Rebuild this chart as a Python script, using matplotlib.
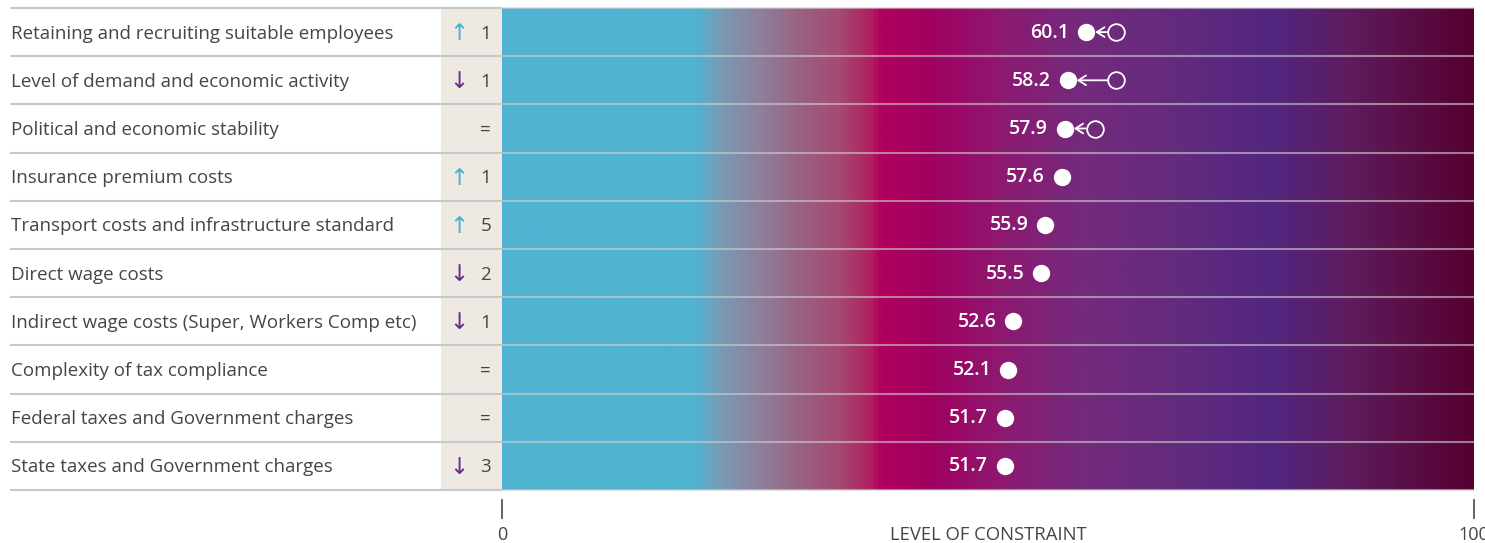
import numpy as np
import matplotlib
matplotlib.use("Agg")
import matplotlib.pyplot as plt
from matplotlib.colors import LinearSegmentedColormap

plt.rcParams['font.family'] = ['Open Sans', 'DejaVu Sans']

categories = [
    "Retaining and recruiting suitable employees",
    "Level of demand and economic activity",
    "Political and economic stability",
    "Insurance premium costs",
    "Transport costs and infrastructure standard",
    "Direct wage costs",
    "Indirect wage costs (Super, Workers Comp etc)",
    "Complexity of tax compliance",
    "Federal taxes and Government charges",
    "State taxes and Government charges",
]
values = [60.1, 58.2, 57.9, 57.6, 55.9, 55.5, 52.6, 52.1, 51.7, 51.7]
previous = [63.2, 63.2, 61.0, None, None, None, None, None, None, None]
rank_dir = ["up", "down", "=", "up", "up", "down", "down", "=", "=", "down"]
rank_change = [1, 1, None, 1, 5, 2, 1, None, None, 3]
axis_ticks = [0, 100]
axis_title = "LEVEL OF CONSTRAINT"

W, H = 1485, 543
fig = plt.figure(figsize=(W / 100, H / 100), dpi=100)
x0, x1 = 502, 1474
ytop, ybot = 8, 490
ax = fig.add_axes([x0 / W, (H - ybot) / H, (x1 - x0) / W, (ybot - ytop) / H])
n = len(categories)
ax.set_xlim(0, 100)
ax.set_ylim(n, 0)
ax.axis('off')

# gradient background
stops = [
    (0.0, "#4fb3d1"), (0.198, "#4fb3d1"), (0.224, "#7a9bb5"), (0.265, "#8f7f9a"),
    (0.306, "#9a6282"), (0.348, "#a44872"), (0.379, "#b0205e"), (0.389, "#b0005e"),
    (0.44, "#a00060"), (0.512, "#8e1870"), (0.595, "#742a7c"), (0.718, "#5f2a7e"),
    (0.795, "#512680"), (0.872, "#5e1c5e"), (1.0, "#560030"),
]
cmap = LinearSegmentedColormap.from_list("grad", stops)
grad = np.linspace(0, 1, 1000).reshape(1, -1)
ax.imshow(grad, aspect='auto', cmap=cmap, extent=[0, 100, n, 0], zorder=0)

px = 100 / (x1 - x0)  # data units per pixel
py = 1 / 48.2          # rows per pixel
label_ax_x = lambda p: (p - x0) * px

# beige rank column
ax.add_patch(plt.Rectangle((label_ax_x(441), 0), label_ax_x(502) - label_ax_x(441), n,
                           facecolor="#efe9e3", edgecolor='none', clip_on=False, zorder=0))

# separators
for i in range(n + 1):
    ax.plot([label_ax_x(10), 0], [i, i], color="#c8c8c8", lw=1.5, clip_on=False, zorder=1,
            solid_capstyle='butt')
    ax.plot([0, 100], [i, i], color="#d0d0d0", alpha=0.6, lw=1.5, clip_on=False, zorder=1,
            solid_capstyle='butt')

text_col = "#454545"
for i, cat in enumerate(categories):
    yc = i + 0.5
    yt = yc + 1.5 * py
    ax.text(label_ax_x(11), yt, cat, ha='left', va='center', fontsize=13.5, color=text_col,
            clip_on=False)
    d = rank_dir[i]
    if d == "=":
        ax.text(label_ax_x(491), yt, "=", ha='right', va='center', fontsize=13.5,
                color=text_col, clip_on=False)
    else:
        col = "#45b0d3" if d == "up" else "#6a2c8a"
        sym = "\u2191" if d == "up" else "\u2193"
        ax.text(label_ax_x(459), yt, sym, ha='center', va='center', fontsize=16.5,
                color=col, family='DejaVu Sans', clip_on=False)
        ax.text(label_ax_x(491), yt, str(rank_change[i]), ha='right', va='center',
                fontsize=13.5, color=text_col, clip_on=False)

    v = values[i]
    p = previous[i]
    if p is not None:
        ax.annotate("", xy=(v, yc), xytext=(p, yc),
                    arrowprops=dict(arrowstyle='->,head_length=0.55,head_width=0.35',
                                    color='white', lw=1.3, shrinkA=6.5, shrinkB=6.5),
                    zorder=3)
        ax.plot(p, yc, 'o', ms=12, mfc='none', mec='white', mew=1.3, zorder=4)
    ax.plot(v, yc, 'o', ms=12.5, mfc='white', mec='white', mew=0, zorder=4)
    ax.text(v - 17 * px, yc + 0.5 * py, f"{v:.1f}", ha='right', va='center', fontsize=14,
            color='white', fontweight='semibold', zorder=5)

# bottom axis
for t in axis_ticks:
    ax.plot([t, t], [n + 10 * py, n + 28 * py], color="#555555", lw=1.3, clip_on=False)
    ax.text(t, n + 45 * py, str(t), ha='center', va='center', fontsize=13,
            color=text_col, clip_on=False)
ax.text(50, n + 45 * py, axis_title, ha='center', va='center', fontsize=13.3,
        color=text_col, clip_on=False)

fig.savefig("out.png", dpi=100)
